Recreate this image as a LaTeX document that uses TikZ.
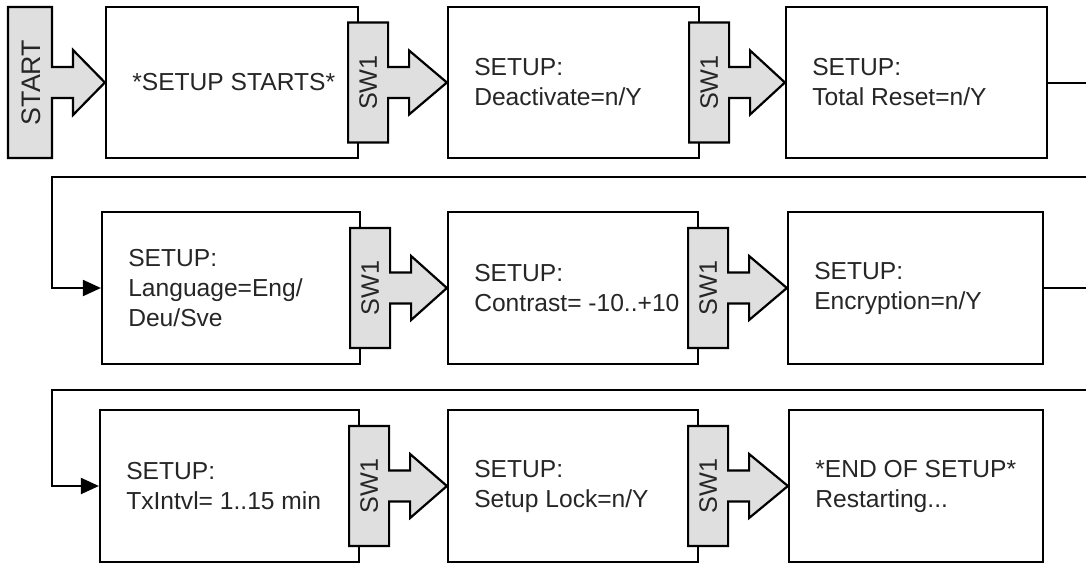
\documentclass[tikz,border=0pt]{standalone}
\usepackage{fontspec}
\setmainfont{Liberation Sans}
\usetikzlibrary{arrows.meta,calc}
\newcommand\mybox[6]{%
  \node[box, minimum width={(#4-#2)*0.5pt}, minimum height={(#5-#3)*0.5pt}] (#1) at ({(#2+#4)/2},{(#3+#5)/2}) {};
  \node[lbl] (#1t) at ([xshift=13.5pt]#1.west) {#6};}
\newcommand\swarr[3]{%
  \draw[swfill] ([shift={(-11,-60)}]#2.east) -- ([shift={(29,-60)}]#2.east) -- ([shift={(29,-15.5)}]#2.east)
    -- ([shift={(50,-15.5)}]#2.east) -- ([shift={(50,-32)}]#2.east) -- (#3.west)
    -- ([shift={(50,32)}]#2.east) -- ([shift={(50,15.5)}]#2.east) -- ([shift={(29,15.5)}]#2.east)
    -- ([shift={(29,60)}]#2.east) -- ([shift={(-11,60)}]#2.east) -- cycle;
  \node[swtxt] (#1) at ([shift={(9,0)}]#2.east) {SW1};}
\begin{document}
\begin{tikzpicture}[x=0.5pt,y=-0.5pt,
  box/.style={draw=black, line width=1.1pt, fill=white, inner sep=0pt},
  lbl/.style={align=left, anchor=west, inner sep=0pt, text=black!85, font=\fontsize{12.3}{15}\selectfont},
  swfill/.style={draw=black, line width=1.1pt, fill=gray!25, line join=miter},
  swtxt/.style={rotate=90, inner sep=0pt, text=black!85, font=\fontsize{12.6}{15}\selectfont},
  conn/.style={draw=black, line width=1pt},
  tipend/.style={-{Triangle[length=9pt,width=8pt]}}]
\useasboundingbox (0,0) rectangle (1086,563);
\clip (0,0) rectangle (1086,563);
% row 1
\mybox{b1}{106}{7}{358}{158}{*SETUP STARTS*}
\mybox{b2}{448}{7}{699}{158}{SETUP:\\Deactivate=n/Y}
\mybox{b3}{786}{7}{1047}{158}{SETUP:\\Total Reset=n/Y}
% row 2
\mybox{b4}{102}{212}{360}{364}{SETUP:\\Language=Eng/\\Deu/Sve}
\mybox{b5}{448}{212}{698}{364}{SETUP:\\Contrast= -10..+10}
\mybox{b6}{788}{212}{1043}{364}{SETUP:\\Encryption=n/Y}
% row 3
\mybox{b7}{100}{410}{359}{562}{SETUP:\\TxIntvl= 1..15 min}
\mybox{b8}{448}{410}{698}{562}{SETUP:\\Setup Lock=n/Y}
\mybox{b9}{789}{410}{1043}{562}{*END OF SETUP*\\Restarting...}
% start arrow
\draw[swfill] (8,7) -- (52,7) -- (52,67) -- (73,67) -- (73,50) -- (b1.west) -- (73,115) -- (73,98) -- (52,98) -- (52,158) -- (8,158) -- cycle;
\node[swtxt, font=\fontsize{13.4}{15}\selectfont] (start) at (31,82.5) {START};
% SW1 arrows
\swarr{s1}{b1}{b2}
\swarr{s2}{b2}{b3}
\swarr{s3}{b4}{b5}
\swarr{s4}{b5}{b6}
\swarr{s5}{b7}{b8}
\swarr{s6}{b8}{b9}
% loop connectors
\draw[conn,tipend] (b3.east) -- ++(80,0) |- (52,177) |- (b4.west);
\draw[conn,tipend] (b6.east) -- ++(80,0) |- (52,390) |- (b7.west);
\end{tikzpicture}
\end{document}
